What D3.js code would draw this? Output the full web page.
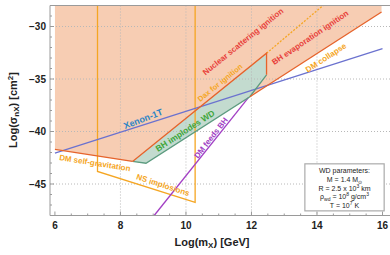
<!DOCTYPE html>
<html>
<head>
<meta charset="utf-8">
<script src="https://cdn.jsdelivr.net/npm/d3@7"></script>
<style>
  body { margin: 0; background: #fff; }
  svg text { font-family: "Liberation Sans", Arial, sans-serif; }
</style>
</head>
<body>
<svg id="chart" width="390" height="255"></svg>
<script>
// data (log10 mass in GeV, log10 cross-section in cm^2)
const xTicks = [6, 8, 10, 12, 14, 16];
const yTicks = [-30, -35, -40, -45];

const excludedRegion = [[6, -28], [6, -41.7], [8.37, -42.85], [8.78, -43.02], [11.95, -36.69], [15.97, -28.62], [15.97, -28]];
const implodesRegion = [[8.37, -42.85], [8.78, -43.02], [11.95, -36.69], [12.46, -34.6], [12.46, -32.54]];

const selfGravLine = [[6, -41.7], [8.37, -42.85]];
const ignitionLine = [[8.37, -42.85], [12.46, -32.54], [12.46, -34.6]];
const implodesLine = [[8.37, -42.85], [8.78, -43.02], [11.95, -36.69], [12.46, -34.6]];
const evapLine = [[11.95, -36.69], [15.97, -28.62]];
const daxLine = [[12.46, -32.54], [14.19, -28]];
const xenonLine = [[6, -42.05], [16, -32.1]];
const feedsLine = [[9.03, -48], [11.9, -36.8]];
const nsLine = [[7.3, -28], [7.3, -43.8], [10.28, -46.75], [10.28, -28]];

// labels: text, x, y, angle, colour, size
const labels = [
  ["Xenon-1T", 8.69, -38.79, -21, "#2a84c6", 9],
  ["Nuclear scattering ignition", 11.74, -31.43, -39, "#e8403a", 8],
  ["Dax for ignition", 11.04, -35.35, -39, "#f5a623", 7.5],
  ["BH evaporation ignition", 13.79, -31.05, -34, "#e8403a", 8],
  ["DM collapse", 14.27, -32.96, -33, "#f5a623", 8],
  ["BH implodes WD", 9.97, -39.93, -33, "#3fa63b", 8.5],
  ["DM feeds BH", 10.76, -40.6, -52, "#a23fc4", 8],
  ["DM self-gravitation", 7.22, -42.99, 9, "#f5a623", 8],
  ["NS implosions", 9.3, -45.09, 18, "#f5a623", 8]
];

const margin = {left: 50, top: 5.5};
const width = 343, height = 210;

const svg = d3.select("#chart");
const g = svg.append("g").attr("transform", "translate(" + margin.left + "," + margin.top + ")");

const x = d3.scaleLinear().domain([5.85, 16.32]).range([0, width]);
const y = d3.scaleLinear().domain([-48, -28]).range([height, 0]);

const line = d3.line().x(d => x(d[0])).y(d => y(d[1]));

// filled regions
g.append("path").attr("d", line(excludedRegion) + "Z").attr("fill", "#f7cdb3");
g.append("path").attr("d", line(implodesRegion) + "Z").attr("fill", "#c3dbcf");

// grid
g.selectAll(".gx").data(xTicks.slice(1, -1)).enter().append("line")
  .attr("x1", d => x(d)).attr("x2", d => x(d)).attr("y1", 0).attr("y2", height)
  .attr("stroke", "#b8b8b8").attr("stroke-width", 1).attr("stroke-dasharray", "1,2");
g.selectAll(".gy").data(yTicks).enter().append("line")
  .attr("y1", d => y(d)).attr("y2", d => y(d)).attr("x1", 0).attr("x2", width)
  .attr("stroke", "#b8b8b8").attr("stroke-width", 1).attr("stroke-dasharray", "1,2");

// curves
function curve(pts, color, dash) {
  g.append("path").attr("d", line(pts)).attr("fill", "none")
    .attr("stroke", color).attr("stroke-width", 1.3)
    .attr("stroke-dasharray", dash || null);
}
curve(nsLine, "#f5a623");
curve(daxLine, "#f5a623", "2,1.5");
curve(xenonLine, "#6b72cf");
curve(feedsLine, "#a23fc4");
curve(implodesLine, "#5c9c80");
curve(selfGravLine, "#e6632b");
curve(ignitionLine, "#e6632b");
curve(evapLine, "#e6632b");

// labels
g.selectAll(".lab").data(labels).enter().append("text")
  .attr("transform", d => "translate(" + x(d[1]) + "," + y(d[2]) + ") rotate(" + d[3] + ")")
  .attr("text-anchor", "middle").attr("dy", "0.35em")
  .attr("font-size", d => d[5] + "px").attr("font-weight", "bold")
  .attr("fill", d => d[4]).text(d => d[0]);

// frame and ticks
const frame = "#9a9a9a";
g.append("line").attr("x1", 0).attr("x2", width).attr("y1", height).attr("y2", height).attr("stroke", frame);
g.append("line").attr("x1", 0).attr("x2", width).attr("y1", 0).attr("y2", 0).attr("stroke", frame);
g.append("line").attr("x1", 0).attr("x2", 0).attr("y1", 0).attr("y2", height).attr("stroke", frame);

const xMinor = d3.range(6, 16.3, 0.5);
g.selectAll(".xt").data(xMinor).enter().append("line")
  .attr("x1", d => x(d)).attr("x2", d => x(d))
  .attr("y1", height).attr("y2", d => height - (d % 2 === 0 ? 4 : 2))
  .attr("stroke", frame);
const yMinor = d3.range(-48, -27.9, 1);
g.selectAll(".yt").data(yMinor).enter().append("line")
  .attr("y1", d => y(d)).attr("y2", d => y(d))
  .attr("x1", 0).attr("x2", d => (d % 5 === 0 ? 4 : 2))
  .attr("stroke", frame);

g.selectAll(".xl").data(xTicks).enter().append("text")
  .attr("x", d => x(d)).attr("y", height + 13)
  .attr("text-anchor", "middle").attr("font-size", "10px").attr("font-weight", "bold")
  .attr("fill", "#222").text(d => d);
g.selectAll(".yl").data(yTicks).enter().append("text")
  .attr("x", -4).attr("y", d => y(d)).attr("dy", "0.35em")
  .attr("text-anchor", "end").attr("font-size", "10px").attr("font-weight", "bold")
  .attr("fill", "#222").text(d => "\u2212" + Math.abs(d));

// axis titles
const xt = svg.append("text").attr("x", 212).attr("y", 246).attr("text-anchor", "middle")
  .attr("font-size", "11px").attr("font-weight", "bold").attr("fill", "#222");
xt.append("tspan").text("Log(m");
xt.append("tspan").attr("font-size", "8px").attr("dy", 2).text("X");
xt.append("tspan").attr("dy", -2).text(") [GeV]");

const yt = svg.append("text").attr("transform", "translate(17,110) rotate(-90)").attr("text-anchor", "middle")
  .attr("font-size", "11px").attr("font-weight", "bold").attr("fill", "#222");
yt.append("tspan").text("Log(\u03c3");
yt.append("tspan").attr("font-size", "8px").attr("dy", 2).text("nX");
yt.append("tspan").attr("dy", -2).text(") [cm");
yt.append("tspan").attr("font-size", "8px").attr("dy", -4).text("2");
yt.append("tspan").attr("dy", 4).text("]");

// parameter box
const bx = x(13.63), by = y(-43.08), bw = x(16.05) - bx, bh = y(-47.56) - by;
svg.append("rect").attr("x", margin.left + bx).attr("y", margin.top + by)
  .attr("width", bw).attr("height", bh).attr("fill", "#fff")
  .attr("stroke", "#aaa").attr("stroke-width", 1.2);
const cx = margin.left + bx + bw / 2;
const boxLines = [
  [["WD parameters:", 0]],
  [["M = 1.4 M", 0], ["\u2299", 2]],
  [["R = 2.5 x 10", 0], ["3", -3], [" km", 0]],
  [["\u03c1", 0], ["wd", 2], [" = 10", 0], ["8", -3], [" g/cm", 0], ["3", -3]],
  [["T = 10", 0], ["7", -3], [" K", 0]]
];
boxLines.forEach((parts, i) => {
  const t = svg.append("text").attr("x", cx).attr("y", margin.top + by + 9.5 + i * 8.6)
    .attr("text-anchor", "middle").attr("font-size", "7px").attr("fill", "#222");
  let prev = 0;
  parts.forEach(p => {
    t.append("tspan").attr("dy", p[1] - prev).attr("font-size", p[1] !== 0 ? "5px" : "7px").text(p[0]);
    prev = p[1];
  });
});
</script>
</body>
</html>
